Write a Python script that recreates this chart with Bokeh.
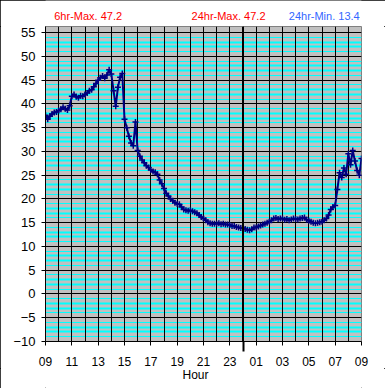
from bokeh.plotting import figure
from bokeh.layouts import column
from bokeh.models import Range1d, SingleIntervalTicker, FixedTicker, Grid, Span
from bokeh.core.properties import value
from bokeh.embed import file_html
from bokeh.resources import INLINE
import numpy as np

# ---- data ----
start_hour = 9.0
step_minutes = 10
temps = [
    37.6, 36.8, 37.4, 37.9, 38.2, 38.3,
    38.6, 38.9, 39.3, 39.0, 38.7, 39.6,
    41.6, 42.0, 41.5, 41.3, 41.7, 41.6,
    42.0, 42.3, 42.8, 43.0, 43.6, 44.3,
    45.0, 45.5, 45.9, 45.4, 46.1, 47.2,
    46.3, 42.8, 39.5, 43.5, 45.6, 46.4,
    36.8, 35.0, 33.2, 31.8, 31.2, 36.2,
    30.2, 29.0, 28.2, 27.6, 27.0, 26.6,
    26.1, 25.8, 25.6, 25.2, 24.0, 23.2,
    22.2, 21.2, 20.6, 20.0, 19.6, 19.2,
    19.0, 18.9, 18.3, 17.8, 17.6, 17.5,
    17.6, 17.4, 17.2, 17.0, 16.6, 16.2,
    15.9, 15.5, 15.1, 14.9, 14.8, 14.8,
    14.8, 14.9, 14.7, 14.8, 14.6, 14.6,
    14.5, 14.3, 14.3, 14.1, 14.0, 13.9,
    13.9, 13.7, 13.5, 13.4, 13.6, 14.0,
    14.0, 14.2, 14.4, 14.6, 14.8, 15.0,
    15.2, 15.5, 15.9, 16.0, 15.8, 15.9,
    15.9, 15.6, 15.8, 15.5, 15.7, 15.9,
    15.8, 15.7, 15.9, 16.0, 16.1, 15.6,
    15.4, 15.2, 15.0, 14.9, 15.0, 15.1,
    15.2, 15.5, 15.9, 16.6, 17.8, 18.3,
    18.6, 22.0, 25.5, 24.5, 26.5, 25.2,
    29.5, 27.2, 30.2, 28.0, 26.0, 25.0,
    28.5,
]
hours = start_hour + np.arange(len(temps)) * step_minutes / 60.0

tick_hours = [9, 11, 13, 15, 17, 19, 21, 23, 25, 27, 29, 31, 33]
tick_labels = ["09", "11", "13", "15", "17", "19", "21", "23", "01", "03", "05", "07", "09"]
midnight_hour = [24]
y_ticks = [-10, -5, 0, 5, 10, 15, 20, 25, 30, 35, 40, 45, 50, 55]
stat_texts = ["6hr-Max. 47.2", "24hr-Max. 47.2", "24hr-Min. 13.4"]
stat_colors = ["#ff0000", "#ff0000", "#3366ff"]
x_title = "Hour"

FONT = "Liberation Sans"
NAVY = "#000080"

x_range = Range1d(9, 33)


def strip(height):
    f = figure(width=385, height=height, x_range=x_range,
               y_range=Range1d(0, height),
               x_axis_type=None, y_axis_type=None,
               output_backend="svg", toolbar_location=None,
               min_border_left=45, min_border_right=24,
               min_border_top=0, min_border_bottom=0,
               background_fill_color="white", border_fill_color="white",
               outline_line_color=None)
    f.grid.visible = False
    return f


# ---- header strip with the statistics ----
top = strip(26)
top.text(x=[12.24, 22.9, 30.17], y=[11, 11, 11], text=stat_texts,
         text_color=stat_colors, text_font=value(FONT),
         text_font_size="11px", text_align="center", text_baseline="middle")

# ---- main chart ----
p = figure(width=385, height=342,
           x_range=x_range, y_range=Range1d(-10, 56.3),
           output_backend="svg", toolbar_location=None,
           min_border_left=45, min_border_right=24,
           min_border_top=0, min_border_bottom=25,
           background_fill_color="#c0c0c0", border_fill_color="white",
           outline_line_color="#808080")

# grids
p.xgrid.ticker = SingleIntervalTicker(interval=1, num_minor_ticks=0)
p.xgrid.grid_line_color = "black"
p.xgrid.grid_line_width = 1
p.ygrid.ticker = FixedTicker(ticks=y_ticks)
p.ygrid.grid_line_color = "black"
p.ygrid.grid_line_width = 1

thin_minor = [v + o for v in y_ticks for o in (1, 4) if v + o < 55]
thick_minor = [v + o for v in y_ticks for o in (2, 3) if v + o < 55]
g_thin = Grid(dimension=1, ticker=FixedTicker(ticks=thin_minor),
              grid_line_color="#00ffff", grid_line_width=1)
g_thick = Grid(dimension=1, ticker=FixedTicker(ticks=thick_minor),
               grid_line_color="#00ffff", grid_line_width=2)
p.center = [g_thin, g_thick] + list(p.center)

# axes
xa = p.xaxis[0]
xa.ticker = FixedTicker(ticks=tick_hours, minor_ticks=midnight_hour)
xa.major_label_overrides = {h: l for h, l in zip(tick_hours, tick_labels)}
xa.major_tick_in = 0
xa.major_tick_out = 4
xa.minor_tick_in = 0
xa.minor_tick_out = 10
xa.minor_tick_line_width = 2
xa.minor_tick_line_color = "black"
xa.axis_line_color = "black"
xa.major_tick_line_color = "black"
xa.major_label_text_font = FONT
xa.major_label_text_font_size = "12px"
xa.major_label_text_color = "black"
xa.major_label_standoff = 5

ya = p.yaxis[0]
ya.ticker = FixedTicker(ticks=y_ticks)
ya.major_tick_in = 0
ya.major_tick_out = 4
ya.minor_tick_out = 0
ya.axis_line_color = "black"
ya.major_tick_line_color = "black"
ya.major_label_text_font = FONT
ya.major_label_text_font_size = "13px"
ya.major_label_text_color = "black"
ya.major_label_standoff = 6

# midnight marker
p.add_layout(Span(location=midnight_hour[0], dimension="height",
                  line_color="black", line_width=2))

# data
p.line(hours, temps, line_color=NAVY, line_width=2)
p.scatter(hours, temps, marker="cross", size=6, line_color=NAVY, line_width=1.5)

# ---- footer strip with the axis title ----
bottom = strip(20)
bottom.text(x=[20.39], y=[13.5], text=[x_title], text_color="black",
            text_font=value(FONT), text_font_size="12px",
            text_align="center", text_baseline="middle")

layout = column(top, p, bottom, spacing=0,
                styles={"outline": "1px solid black", "outline-offset": "-1px"})

open("out.html", "w").write(file_html(layout, INLINE))
